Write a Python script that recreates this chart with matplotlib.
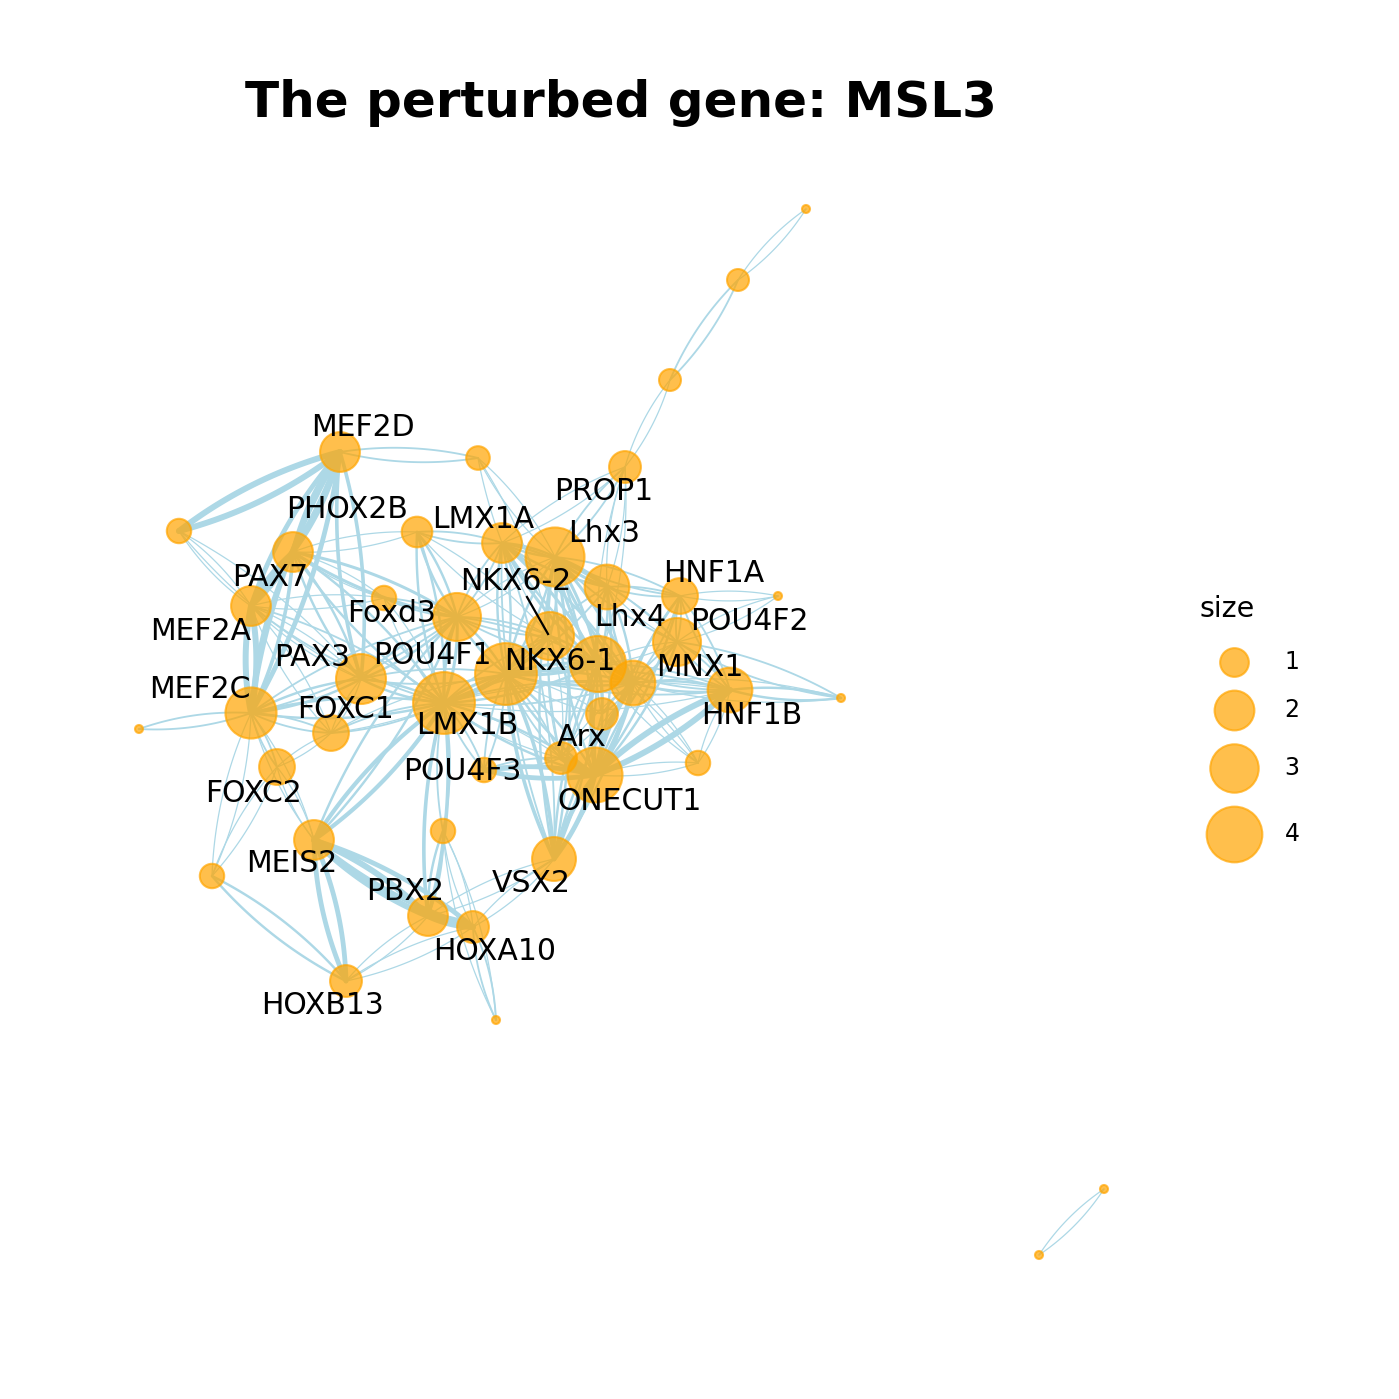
import numpy as np
import matplotlib
matplotlib.use("Agg")
import matplotlib.pyplot as plt

# node layout (layout units, y grows downward) and node size values
node_ids = ["c1", "c2", "c3", "PROP1", "n_a", "MEF2D", "n_b", "PHOX2B", "n_c",
            "LMX1A", "Lhx3", "Lhx4", "HNF1A", "n_d", "POU4F2", "NKX6-2", "NKX6-1",
            "n_e", "MNX1", "HNF1B", "n_f", "Foxd3", "POU4F1", "PAX7", "PAX3",
            "LMX1B", "MEF2C", "n_g", "FOXC1", "n_h", "Arx", "POU4F3", "ONECUT1",
            "n_i", "FOXC2", "MEIS2", "n_j", "VSX2", "n_k", "PBX2", "HOXA10",
            "HOXB13", "n_l", "s1", "s2"]
node_x = [806, 738, 670, 625, 478, 340, 179, 293, 417,
          502, 555, 607, 680, 778, 677, 550, 598,
          506, 633, 730, 841, 384, 457, 251, 361,
          444, 251, 139, 331, 602, 561, 484, 595,
          698, 277, 314, 443, 554, 212, 428, 473,
          346, 496, 1104, 1039]
node_y = [209, 280, 380, 467, 458, 452, 531, 552, 532,
          543, 557, 587, 596, 596, 642, 636, 664,
          674, 683, 690, 698, 598, 617, 606, 679,
          703, 713, 729, 733, 714, 758, 770, 775,
          763, 767, 840, 831, 859, 876, 916, 927,
          981, 1020, 1189, 1255]
node_size = [0.0, 0.55, 0.55, 1.25, 0.65, 2.0, 0.7, 2.0, 1.15,
             2.0, 4.5, 2.55, 1.6, 0.0, 2.95, 2.95, 4.05,
             4.95, 2.55, 2.55, 0.0, 0.7, 2.95, 2.0, 3.2,
             4.95, 3.35, 0.0, 1.6, 1.25, 1.25, 0.7, 3.9,
             0.7, 1.6, 2.0, 0.7, 2.45, 0.7, 2.0, 1.25,
             1.25, 0.0, 0.0, 0.0]

# edges: (from, to, weight)
edges = [
    ("c1", "c2", 1), ("c2", "c3", 1.5), ("c3", "PROP1", 1), ("s1", "s2", 1),
    ("PROP1", "Lhx3", 1.5), ("PROP1", "Lhx4", 1), ("PROP1", "LMX1A", 1), ("PROP1", "NKX6-1", 1),
    ("n_a", "MEF2D", 1.5), ("n_a", "Lhx3", 1), ("n_a", "NKX6-2", 1),
    ("MEF2D", "n_b", 5), ("MEF2D", "PHOX2B", 4), ("MEF2D", "PAX7", 4),
    ("MEF2D", "MEF2C", 4), ("MEF2D", "PAX3", 3),
    ("n_b", "PAX7", 1), ("n_b", "PAX3", 1),
    ("PHOX2B", "PAX7", 4), ("PHOX2B", "MEF2C", 3), ("PHOX2B", "POU4F1", 2.5),
    ("PHOX2B", "PAX3", 2), ("PHOX2B", "LMX1B", 2), ("PHOX2B", "Foxd3", 1),
    ("PAX7", "MEF2C", 5), ("PAX7", "PAX3", 1), ("PAX7", "LMX1B", 1.5), ("PAX7", "FOXC1", 1),
    ("MEF2C", "n_g", 1.5), ("MEF2C", "FOXC1", 1.5), ("MEF2C", "FOXC2", 1.5),
    ("MEF2C", "PAX3", 2), ("MEF2C", "LMX1B", 2), ("MEF2C", "POU4F1", 1.5), ("MEF2C", "MEIS2", 1),
    ("FOXC1", "FOXC2", 1), ("FOXC1", "PAX3", 1), ("FOXC1", "LMX1B", 1.5), ("FOXC1", "n_e", 1),
    ("FOXC2", "n_k", 1), ("FOXC2", "MEIS2", 1),
    ("n_k", "HOXB13", 2), ("n_k", "MEF2C", 1),
    ("MEIS2", "HOXB13", 4), ("MEIS2", "PBX2", 5), ("MEIS2", "HOXA10", 4),
    ("MEIS2", "LMX1B", 3.5), ("MEIS2", "POU4F1", 2),
    ("PBX2", "HOXA10", 5), ("PBX2", "HOXB13", 1), ("PBX2", "LMX1B", 3),
    ("PBX2", "VSX2", 1), ("PBX2", "n_j", 2),
    ("HOXA10", "n_l", 1.5), ("HOXA10", "VSX2", 1), ("HOXA10", "n_j", 1), ("HOXA10", "HOXB13", 1),
    ("n_j", "LMX1B", 1.5), ("n_j", "n_l", 1),
    ("VSX2", "ONECUT1", 4), ("VSX2", "NKX6-1", 2), ("VSX2", "n_e", 3),
    ("VSX2", "LMX1A", 1.5), ("VSX2", "Lhx3", 2), ("VSX2", "MNX1", 2),
    ("ONECUT1", "Arx", 4), ("ONECUT1", "POU4F3", 4), ("ONECUT1", "HNF1B", 5),
    ("ONECUT1", "MNX1", 4), ("ONECUT1", "n_e", 2), ("ONECUT1", "NKX6-1", 2),
    ("ONECUT1", "Lhx3", 2), ("ONECUT1", "Lhx4", 2), ("ONECUT1", "n_i", 1),
    ("ONECUT1", "HNF1A", 2), ("ONECUT1", "POU4F2", 2), ("ONECUT1", "LMX1B", 2),
    ("ONECUT1", "n_h", 1.5),
    ("HNF1B", "n_f", 2), ("HNF1B", "MNX1", 2), ("HNF1B", "POU4F2", 1.5),
    ("HNF1B", "HNF1A", 1.5), ("HNF1B", "n_i", 1), ("HNF1B", "NKX6-1", 1.5),
    ("HNF1B", "n_e", 1.5), ("HNF1B", "LMX1B", 1),
    ("n_f", "POU4F2", 1.5), ("n_f", "MNX1", 1),
    ("n_d", "HNF1A", 1), ("n_d", "POU4F2", 1),
    ("n_i", "MNX1", 1), ("n_i", "NKX6-1", 1),
    ("n_c", "LMX1A", 1.5), ("n_c", "POU4F1", 2), ("n_c", "LMX1B", 2),
    ("n_c", "PHOX2B", 1), ("n_c", "NKX6-2", 1),
    ("LMX1A", "Lhx3", 2), ("LMX1A", "NKX6-1", 2.5), ("LMX1A", "n_e", 2),
    ("LMX1A", "MNX1", 2), ("LMX1A", "Lhx4", 2), ("LMX1A", "POU4F1", 1.5),
    ("Lhx3", "Lhx4", 2.5), ("Lhx3", "NKX6-1", 2.5), ("Lhx3", "MNX1", 2.5),
    ("Lhx3", "n_e", 2), ("Lhx3", "NKX6-2", 2), ("Lhx3", "HNF1A", 1.5),
    ("Lhx3", "POU4F2", 1.5), ("Lhx3", "POU4F1", 1), ("Lhx3", "Arx", 1.5),
    ("Lhx4", "MNX1", 2), ("Lhx4", "NKX6-1", 2), ("Lhx4", "HNF1A", 1.5),
    ("Lhx4", "n_e", 1.5), ("Lhx4", "POU4F2", 1),
    ("HNF1A", "POU4F2", 1.5), ("HNF1A", "MNX1", 1.5),
    ("POU4F2", "MNX1", 1.5), ("POU4F2", "NKX6-1", 1),
    ("NKX6-2", "NKX6-1", 2), ("NKX6-2", "n_e", 2), ("NKX6-2", "POU4F1", 1.5),
    ("NKX6-2", "LMX1B", 1.5), ("NKX6-2", "Arx", 1),
    ("NKX6-1", "n_e", 2.5), ("NKX6-1", "MNX1", 2.5), ("NKX6-1", "Arx", 1.5), ("NKX6-1", "n_h", 1.5),
    ("n_e", "POU4F1", 2), ("n_e", "LMX1B", 2.5), ("n_e", "MNX1", 2),
    ("n_e", "PAX3", 1.5), ("n_e", "Arx", 1.5), ("n_e", "n_h", 1),
    ("MNX1", "n_h", 1.5), ("MNX1", "Arx", 1),
    ("Foxd3", "POU4F1", 1.5), ("Foxd3", "LMX1B", 1), ("Foxd3", "PAX7", 1),
    ("POU4F1", "LMX1B", 2.5), ("POU4F1", "PAX3", 2), ("POU4F1", "NKX6-1", 1.5),
    ("PAX3", "LMX1B", 2),
    ("LMX1B", "POU4F3", 1.5), ("LMX1B", "Arx", 1), ("LMX1B", "NKX6-1", 2), ("LMX1B", "MNX1", 1.5),
    ("POU4F3", "Arx", 1.5), ("POU4F3", "n_e", 1.5),
]

# gene labels (placed by repel, stored as text positions)
label_text = ["MEF2D", "PHOX2B", "LMX1A", "PROP1", "Lhx3", "HNF1A", "NKX6-2",
              "Lhx4", "POU4F2", "PAX7", "Foxd3", "MEF2A", "POU4F1", "PAX3",
              "NKX6-1", "MNX1", "MEF2C", "FOXC1", "HNF1B", "LMX1B", "Arx",
              "POU4F3", "FOXC2", "ONECUT1", "MEIS2", "VSX2", "PBX2", "HOXA10", "HOXB13"]
label_x = [363, 347, 483, 604, 604, 714, 516, 630, 749, 270, 392, 201, 432, 312,
           560, 700, 200, 346, 752, 467, 582, 462, 254, 630, 292, 531, 405, 495, 323]
label_y = [428, 509, 519, 492, 534, 573, 582, 617, 621, 578, 613, 631, 656, 657,
           661, 667, 690, 709, 716, 726, 738, 771, 793, 801, 864, 883, 891, 951, 1005]

legend_sizes = [1, 2, 3, 4]

EDGE_COL = "#ADD8E6"
NODE_COL = "#FFA500"


def radius_px(s):
    return np.sqrt(16 + 190 * np.asarray(s, dtype=float))


def marker_area(s):
    # diameter in points (1 px = 0.72 pt at dpi 100), squared
    return (2 * radius_px(s) * 0.72) ** 2


def arc(p0, p1, bend):
    p0 = np.asarray(p0, float)
    p1 = np.asarray(p1, float)
    d = p1 - p0
    normal = np.array([-d[1], d[0]])
    ctrl = (p0 + p1) / 2 + bend * normal
    t = np.linspace(0, 1, 40)[:, None]
    pts = (1 - t) ** 2 * p0 + 2 * (1 - t) * t * ctrl + t ** 2 * p1
    return pts[:, 0], pts[:, 1]


pos = {n: (x, y) for n, x, y in zip(node_ids, node_x, node_y)}

fig = plt.figure(figsize=(13.99, 13.99), dpi=100)
ax = fig.add_axes([0, 0, 1, 1])
ax.set_xlim(0, 1399)
ax.set_ylim(1399, 0)
ax.axis("off")

# edges: each pair drawn twice as a fan of two arcs
for u, v, w in edges:
    lw = 0.9 + 0.85 * (w - 1)
    for bend in (0.1, -0.1):
        xs, ys = arc(pos[u], pos[v], bend)
        ax.plot(xs, ys, color=EDGE_COL, lw=lw, solid_capstyle="round", zorder=1)

# nodes
ax.scatter(node_x, node_y, s=marker_area(node_size), color=NODE_COL, alpha=0.7,
           linewidths=1.5, zorder=2)

# labels
for t, x, y in zip(label_text, label_x, label_y):
    ax.text(x, y, t, fontsize=21.5, ha="center", va="center", color="black", zorder=3)
# repel segment for NKX6-2
ax.plot([pos["NKX6-2"][0] - 23, pos["NKX6-2"][0] - 2],
        [pos["NKX6-2"][1] - 39, pos["NKX6-2"][1] - 2], color="black", lw=1.6, zorder=3)

# title
ax.text(621, 103, "The perturbed gene: MSL3", fontsize=36, fontweight="bold",
        ha="center", va="center")

# legend
ax.text(1227, 609, "size", fontsize=20.5, ha="center", va="center")
ly = 662.0
prev_r = None
for s in legend_sizes:
    r = radius_px(s)
    if prev_r is not None:
        ly += prev_r + r + 14
    ax.scatter([1234], [ly], s=marker_area(s), color=NODE_COL, alpha=0.7,
               linewidths=1.5, zorder=2)
    ax.text(1292, ly, str(s), fontsize=17, ha="center", va="center")
    prev_r = r

fig.savefig("out.png", dpi=100)
